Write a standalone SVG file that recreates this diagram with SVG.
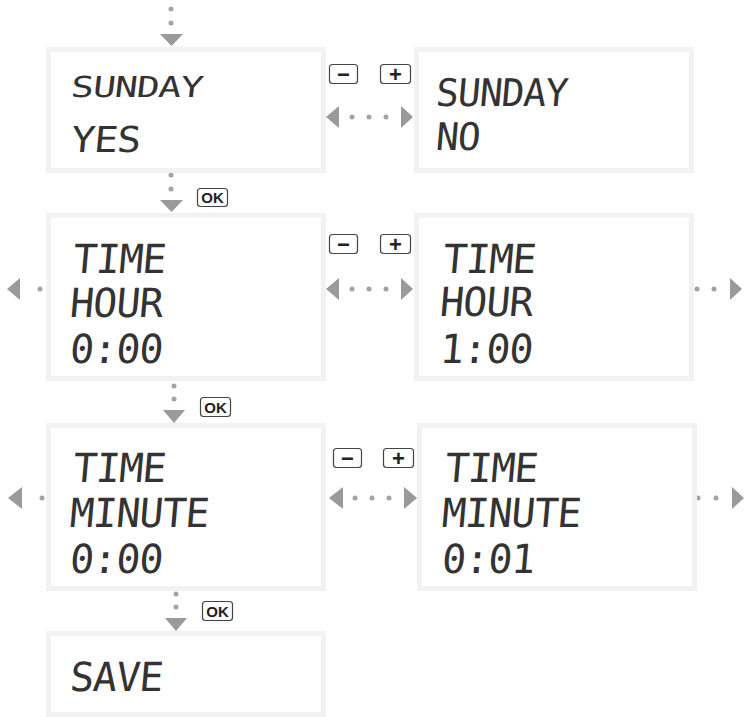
<svg xmlns="http://www.w3.org/2000/svg" width="744" height="717" viewBox="0 0 744 717">
<style>
.box{fill:#fff;stroke:#f2f2f2;stroke-width:5}
.lcd{font-family:"DejaVu Sans Mono","Liberation Mono",monospace;fill:#333}
.l40{font-size:40px;letter-spacing:-1px}
.l38{font-size:38px;letter-spacing:-1px}
.dot{fill:#a3a3a3}
.arr{fill:#9a9a9a}
.btn{fill:#fff;stroke:#444;stroke-width:1.2}
.bt{font-family:"Liberation Sans",Arial,sans-serif;font-weight:bold;fill:#222;text-anchor:middle}
.ok{font-size:15px}
.pm{font-size:22px}
</style>
<rect width="744" height="717" fill="#fff"/>
<g id="connectors">
  <circle class="dot" cx="171" cy="9" r="2.5"/><circle class="dot" cx="171" cy="23" r="2.5"/>
  <polygon class="arr" points="160,34 183,34 171.5,46"/>
  <circle class="dot" cx="171" cy="175" r="2.5"/><circle class="dot" cx="171" cy="189" r="2.5"/>
  <polygon class="arr" points="160,200 183,200 171.5,212"/>
  <rect class="btn" x="197.5" y="188.5" width="30" height="18" rx="3"/><text class="bt ok" x="212.5" y="203">OK</text>
  <circle class="dot" cx="174" cy="386" r="2.5"/><circle class="dot" cx="174" cy="399" r="2.5"/>
  <polygon class="arr" points="163,410 185,410 174,423"/>
  <rect class="btn" x="200.5" y="397.5" width="30" height="19" rx="3"/><text class="bt ok" x="215.5" y="412.5">OK</text>
  <circle class="dot" cx="176" cy="594" r="2.5"/><circle class="dot" cx="176" cy="607" r="2.5"/>
  <polygon class="arr" points="165,618 187,618 176,631"/>
  <rect class="btn" x="202.5" y="601.5" width="30" height="19" rx="3"/><text class="bt ok" x="217.5" y="616.5">OK</text>
  <polygon class="arr" points="326,117 339,106 339,128"/>
  <circle class="dot" cx="352" cy="117" r="2.5"/><circle class="dot" cx="369" cy="117" r="2.5"/><circle class="dot" cx="386" cy="117" r="2.5"/>
  <polygon class="arr" points="413,117 401,106 401,128"/>
  <rect class="btn" x="329.5" y="64.5" width="28" height="19" rx="3"/><text class="bt pm" x="343.5" y="81.5">−</text>
  <rect class="btn" x="380.5" y="64.5" width="30" height="19" rx="3"/><text class="bt pm" x="395.5" y="81.5">+</text>
  <polygon class="arr" points="326,289 339,278 339,300"/>
  <circle class="dot" cx="352" cy="289" r="2.5"/><circle class="dot" cx="369" cy="289" r="2.5"/><circle class="dot" cx="386" cy="289" r="2.5"/>
  <polygon class="arr" points="413,289 401,278 401,300"/>
  <rect class="btn" x="329.5" y="234.5" width="28" height="19" rx="3"/><text class="bt pm" x="343.5" y="251.5">−</text>
  <rect class="btn" x="380.5" y="234.5" width="30" height="19" rx="3"/><text class="bt pm" x="395.5" y="251.5">+</text>
  <polygon class="arr" points="7,289 20,278 20,300"/>
  <circle class="dot" cx="40" cy="289" r="2.5"/>
  <circle class="dot" cx="697" cy="289" r="2.5"/><circle class="dot" cx="714" cy="289" r="2.5"/>
  <polygon class="arr" points="742,289 730,278 730,300"/>
  <polygon class="arr" points="329,498 343,487 343,509"/>
  <circle class="dot" cx="355" cy="498" r="2.5"/><circle class="dot" cx="372" cy="498" r="2.5"/><circle class="dot" cx="389" cy="498" r="2.5"/>
  <polygon class="arr" points="417,498 404,487 404,509"/>
  <rect class="btn" x="333.5" y="448.5" width="28" height="19" rx="3"/><text class="bt pm" x="347.5" y="465.5">−</text>
  <rect class="btn" x="383.5" y="448.5" width="30" height="19" rx="3"/><text class="bt pm" x="398.5" y="465.5">+</text>
  <polygon class="arr" points="8,498 22,487 22,509"/>
  <circle class="dot" cx="42" cy="498" r="2.5"/>
  <circle class="dot" cx="698" cy="498" r="2.5"/><circle class="dot" cx="716" cy="498" r="2.5"/>
  <polygon class="arr" points="744,498 732,487 732,509"/>
</g>
<g id="sunday-yes">
  <rect class="box" x="48.5" y="49.5" width="275" height="121"/>
  <text class="lcd l38" transform="translate(70,97) scale(1,0.76) skewX(-5)">SUNDAY</text>
  <text class="lcd l38" transform="translate(70,152) scale(1.05,0.94) skewX(-5)">YES</text>
</g>
<g id="sunday-no">
  <rect class="box" x="416.5" y="49.5" width="275" height="121"/>
  <text class="lcd l38" transform="translate(435,106) skewX(-5)">SUNDAY</text>
  <text class="lcd l38" transform="translate(435,150) skewX(-5)">NO</text>
</g>
<g id="hour-0">
  <rect class="box" x="48.5" y="215.5" width="275" height="163"/>
  <text class="lcd l40" transform="translate(72,273) skewX(-5)">TIME</text>
  <text class="lcd l40" transform="translate(69,317) skewX(-5)">HOUR</text>
  <text class="lcd l40" transform="translate(69,363) skewX(-5)">0:00</text>
</g>
<g id="hour-1">
  <rect class="box" x="416.5" y="215.5" width="275" height="163"/>
  <text class="lcd l40" transform="translate(442,273) skewX(-5)">TIME</text>
  <text class="lcd l40" transform="translate(439,316) skewX(-5)">HOUR</text>
  <text class="lcd l40" transform="translate(439,363) skewX(-5)">1:00</text>
</g>
<g id="minute-0">
  <rect class="box" x="48.5" y="425.5" width="275" height="163"/>
  <text class="lcd l40" transform="translate(72,482) skewX(-5)">TIME</text>
  <text class="lcd l40" transform="translate(69,527) skewX(-5)">MINUTE</text>
  <text class="lcd l40" transform="translate(69,573) skewX(-5)">0:00</text>
</g>
<g id="minute-1">
  <rect class="box" x="419.5" y="425.5" width="275" height="163"/>
  <text class="lcd l40" transform="translate(444,482) skewX(-5)">TIME</text>
  <text class="lcd l40" transform="translate(441,527) skewX(-5)">MINUTE</text>
  <text class="lcd l40" transform="translate(441,573) skewX(-5)">0:01</text>
</g>
<g id="save">
  <rect class="box" x="48.5" y="633.5" width="275" height="81"/>
  <text class="lcd l40" transform="translate(69,691) skewX(-5)">SAVE</text>
</g>
</svg>
